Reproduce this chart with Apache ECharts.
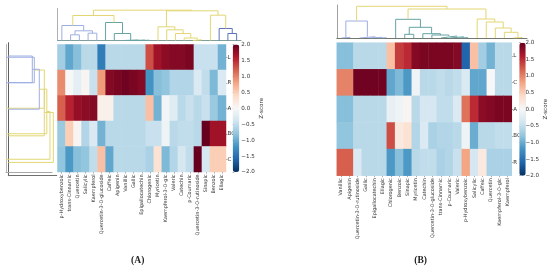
<!DOCTYPE html>
<html><head><meta charset="utf-8">
<style>html,body{margin:0;padding:0;background:#fff}#c{width:550px;height:266px}</style>
<script src="https://cdn.jsdelivr.net/npm/echarts@6/dist/echarts.min.js"></script>
</head><body><div id="c"></div>
<script>
// ---- Panel A data ----
const colsA = ['p-Hydroxybenzoic','trans-Cinnamic','Quercetin','Salicylic','Kaempferol','Quercetin-3-O-glucoside','Caffeic','Apigenin','Vanillic','Gallic','Epigallocatechin','Chlorogenic','Myricetin','Kaempferol-3-O-glc','Valeric','Catechin','p-Coumaric','Quercetin-3-O-rutinoside','Sinapic','Benzoic','Ellagic'];
const rowsA = ['L','R','A','BC','C'];
const zA_L  = [-0.7,-1.05,-0.85,-0.55,-0.55,-1.4,-0.55,-0.55,-0.55,-0.55,-0.55,1.3,1.7,1.8,1.85,1.85,1.9,-0.45,-0.45,-0.45,-0.95];
const zA_R  = [0.95,0.0,-0.2,0.05,-0.45,0.85,1.85,1.9,1.95,1.9,1.85,-1.2,-0.85,-0.8,-0.6,-0.6,-0.6,-0.3,-0.5,-0.9,-0.3];
const zA_A  = [1.2,1.55,1.75,1.8,1.85,0.1,0.1,-0.55,-0.55,-0.55,-0.55,0.6,-0.95,-0.05,-0.25,-0.55,-0.45,-0.55,-0.45,-0.75,-0.95];
const zA_BC = [-0.75,0.5,0.05,-0.6,-0.3,-0.95,-0.55,-0.55,-0.55,-0.55,-0.55,-0.45,-0.45,-0.1,-0.55,-0.5,-0.5,-0.55,2.0,1.7,1.7];
const zA_C  = [-0.8,-1.15,-0.85,-0.8,-0.5,0.6,-1.05,-0.55,-0.55,-0.55,-0.55,-0.65,0.3,-0.9,-0.6,-0.35,-0.5,2.0,-0.35,0.5,0.5];
const topMergesA = [[1,2,5.7],[3,4,7.3],[21,22,9.7],[0,23,15],[9,10,0.3],[8,25,0.4],[7,26,0.5],[6,27,7],[5,28,18],[24,29,25],[15,16,0.7],[14,31,2.5],[13,32,7],[12,33,10.7],[11,34,13.7],[19,20,7],[18,36,12],[17,37,25.3],[35,38,29.7],[30,39,30.3]];
const topGroupsA = [1,1,1,1,2,2,2,2,2,0,0,0,0,0,0,3,3,0,0,0];
const leftMergesA = [[0,1,28.3],[5,2,38.3],[6,3,40.8],[7,4,44]];
const leftGroupsA = [1,0,0,0];
// ---- Panel B data ----
const colsB = ['Vanillic','Apigenin','Quercetin-3-O-rutinoside','Gallic','Epigallocatechin','Ellagic','Chlorogenic','Benzoic','Sinapic','Myricetin','Catechin','Quercetin-3-O-glucoside','trans-Cinnamic','p-Coumaric','Valeric','p-Hydroxybenzoic','Salicylic','Caffeic','Quercetin','Kaempferol-3-O-glc','Kaempferol'];
const rowsB = ['L','C','A','BC','R'];
const zB_L  = [-0.85,-0.85,-0.55,-0.55,-0.55,-0.55,0.6,1.4,1.5,1.85,1.9,1.9,1.9,1.9,1.85,-1.6,0.6,-0.7,-0.95,-0.55,-0.55];
const zB_C  = [1.0,1.0,1.95,1.95,1.95,1.95,-1.05,-0.9,-1.15,-0.1,-0.55,-0.55,-0.5,-0.55,-0.5,-0.3,-1.05,-1.05,0.0,-0.55,-0.55];
const zB_A  = [-0.85,-0.85,-0.55,-0.55,-0.55,-0.55,-0.15,-0.1,0.05,-0.55,-0.35,-0.35,-0.5,-0.5,-0.3,1.1,1.5,1.8,1.85,1.9,1.9];
const zB_BC = [-0.8,-0.8,-0.55,-0.55,-0.55,-0.55,1.3,0.2,0.3,-0.6,-0.3,-0.65,-0.6,-0.6,-0.55,-0.1,-1.0,-0.55,-0.55,-0.5,-0.5];
const zB_R  = [1.2,1.2,-0.3,-0.55,-0.55,-0.55,-1.15,-0.85,-1.15,-0.55,-0.5,-0.5,-0.65,-0.6,-0.45,0.8,-0.35,0.2,-0.65,-0.65,-0.65];
const topMergesB = [[0,1,0.7],[4,5,0.3],[3,22,0.7],[2,23,1.3],[21,24,17],[7,8,3.7],[13,14,0.3],[12,27,1.2],[11,28,2],[10,29,3],[9,30,4.3],[26,31,10.7],[6,32,18.7],[19,20,0.5],[18,34,5.7],[17,35,10],[16,36,16],[15,37,19],[33,38,29],[25,39,31.7]];
const topGroupsB = [1,1,1,1,1,2,2,2,2,2,2,2,2,0,0,0,0,0,0,0];
const leftMergesB = [[0,1,24],[5,2,31],[6,3,36],[7,4,45]];
const leftGroupsB = [1,1,0,0];
const colorTicks = [-2,2];

// ---- styling ----
const RdBu = ['#053061','#2166ac','#4393c3','#92c5de','#d1e5f0','#f7f7f7','#fddbc7','#f4a582','#d6604d','#b2182b','#67001f'];
const linkColors = ['#e2d774','#9eaee2','#66a3a3','#5f74b8'];
const font = 'DejaVu Sans', txt = '#333';

function matrix(rows){const o=[];rows.forEach((r,y)=>r.forEach((v,x)=>o.push([x,y,v])));return o;}
function links(merges,n){
  const pos=[],ht=[];for(let i=0;i<n;i++){pos[i]=i+0.5;ht[i]=0;}
  return merges.map((m,k)=>{const id=n+k,[a,b,h]=m;pos[id]=(pos[a]+pos[b])/2;ht[id]=h;
    return [[pos[a],ht[a]],[pos[a],h],[pos[b],h],[pos[b],ht[b]]];});
}
const grids=[],xAxes=[],yAxes=[],series=[],vms=[],titles=[];
function addGrid(l,t,w,h){grids.push({left:l,top:t,width:w,height:h,containLabel:false});return grids.length-1;}
const off={show:false};

function heat(g,cols,rows,data,vmLeft,vmTop,vmW,vmH,fs){
  const gi=addGrid(g.l,g.t,g.w,g.h);
  const xi=xAxes.push({type:'category',gridIndex:gi,data:cols,position:'bottom',
    axisLine:off,axisTick:{show:true,length:1.5,lineStyle:{color:'#555',width:0.5},alignWithLabel:true},splitLine:off,splitArea:off,
    axisLabel:{interval:0,rotate:90,fontSize:fs,fontFamily:font,color:txt,margin:2.5}})-1;
  const yi=yAxes.push({type:'category',gridIndex:gi,data:rows,position:'right',inverse:true,
    axisLine:off,axisTick:{show:true,length:1.5,lineStyle:{color:'#555',width:0.5},alignWithLabel:true},splitLine:off,splitArea:off,
    axisLabel:{fontSize:5.5,fontFamily:font,color:txt,margin:1.5}})-1;
  const si=series.push({type:'heatmap',xAxisIndex:xi,yAxisIndex:yi,data,itemStyle:{borderWidth:0},emphasis:{disabled:true},progressive:0})-1;
  vms.push({type:'continuous',min:-2,max:2,dimension:2,seriesIndex:si,calculable:false,show:true,left:vmLeft,top:vmTop,itemWidth:vmW,itemHeight:vmH,padding:0,itemGap:0,hoverLink:false,inRange:{color:RdBu},textStyle:{fontSize:1,color:'rgba(0,0,0,0)'}});
  return si;
}
function cbar(l,t,w,h,gap){
  const gi=addGrid(l,t,w,h);
  const xi=xAxes.push({type:'value',gridIndex:gi,show:false,min:0,max:1})-1;
  const yi=yAxes.push({type:'value',gridIndex:gi,position:'right',min:colorTicks[0],max:colorTicks[1],interval:0.5,
    axisLine:off,splitLine:off,axisTick:{show:true,length:1.5,lineStyle:{color:'#555',width:0.5}},
    axisLabel:{fontSize:5.6,fontFamily:font,color:txt,margin:2,showMinLabel:true,showMaxLabel:true,formatter:v=>v.toFixed(1).replace('-','\u2212')},
    name:'Z-score',nameLocation:'middle',nameRotate:90,nameGap:gap,nameTextStyle:{fontSize:5.6,fontFamily:font,color:txt}})-1;
  series.push({type:'line',xAxisIndex:xi,yAxisIndex:yi,data:[],silent:true});
}
function dendro(g,orient,merges,groups,n,max,axisCols){
  const gi=addGrid(g.l,g.t,g.w,g.h);
  const top=orient==='top';
  const lineX={show:true,onZero:false,lineStyle:{color:axisCols[0],width:1}};
  const lineY={show:true,onZero:false,lineStyle:{color:axisCols[1],width:1}};
  const base={axisTick:off,axisLabel:off,splitLine:off};
  const xi=xAxes.push(Object.assign({type:'value',gridIndex:gi,min:0,max:top?n:max,position:'bottom',axisLine:lineX},base))-1;
  const yi=yAxes.push(Object.assign({type:'value',gridIndex:gi,min:0,max:top?max:n,inverse:!top,position:'left',axisLine:lineY},base))-1;
  links(merges,n).forEach((poly,k)=>{
    series.push({type:'line',xAxisIndex:xi,yAxisIndex:yi,symbol:'none',silent:true,
      data:top?poly:poly.map(p=>[p[1],p[0]]),lineStyle:{color:linkColors[groups[k]],width:1},z:3});
  });
}

heat({l:57.5,t:44.5,w:168.5,h:127.5},colsA,rowsA,matrix([zA_L,zA_R,zA_A,zA_BC,zA_C]),232.7,44.5,6.6,127.5,4.9);
heat({l:336.8,t:42.7,w:175,h:133},colsB,rowsB,matrix([zB_L,zB_C,zB_A,zB_BC,zB_R]),519.3,42.7,6.4,133,4.9);
cbar(232.7,44.5,6.6,127.5,11.5);
cbar(519.3,42.7,6.4,133,14);
dendro({l:57.5,t:8.3,w:183.5,h:32.2},'top',topMergesA,topGroupsA,21,32.2,['#7f9f9a','#b0b0b0']);
dendro({l:6,t:44.5,w:46,h:127.5},'left',leftMergesA,leftGroupsA,5,46,['#a8a8a8','#b8b8b8']);
dendro({l:336.8,t:5,w:190.2,h:33},'top',topMergesB,topGroupsB,21,33,['#707870','#a0a0a0']);
dendro({l:8.3,t:42.7,w:48.4,h:133},'left',leftMergesB,leftGroupsB,5,48.4,['#707070','#606060']);

titles.push({text:'(A)',left:132.7,top:251,textAlign:'center',textStyle:{fontFamily:'Liberation Serif',fontSize:9.5,fontWeight:'bold',color:'#222'}});
titles.push({text:'(B)',left:415.7,top:251,textAlign:'center',textStyle:{fontFamily:'Liberation Serif',fontSize:9.5,fontWeight:'bold',color:'#222'}});

const chart=echarts.init(document.getElementById('c'),null,{renderer:'canvas'});
chart.setOption({animation:false,backgroundColor:'#fff',title:titles,tooltip:{show:false},grid:grids,xAxis:xAxes,yAxis:yAxes,visualMap:vms,series});
</script></body></html>
